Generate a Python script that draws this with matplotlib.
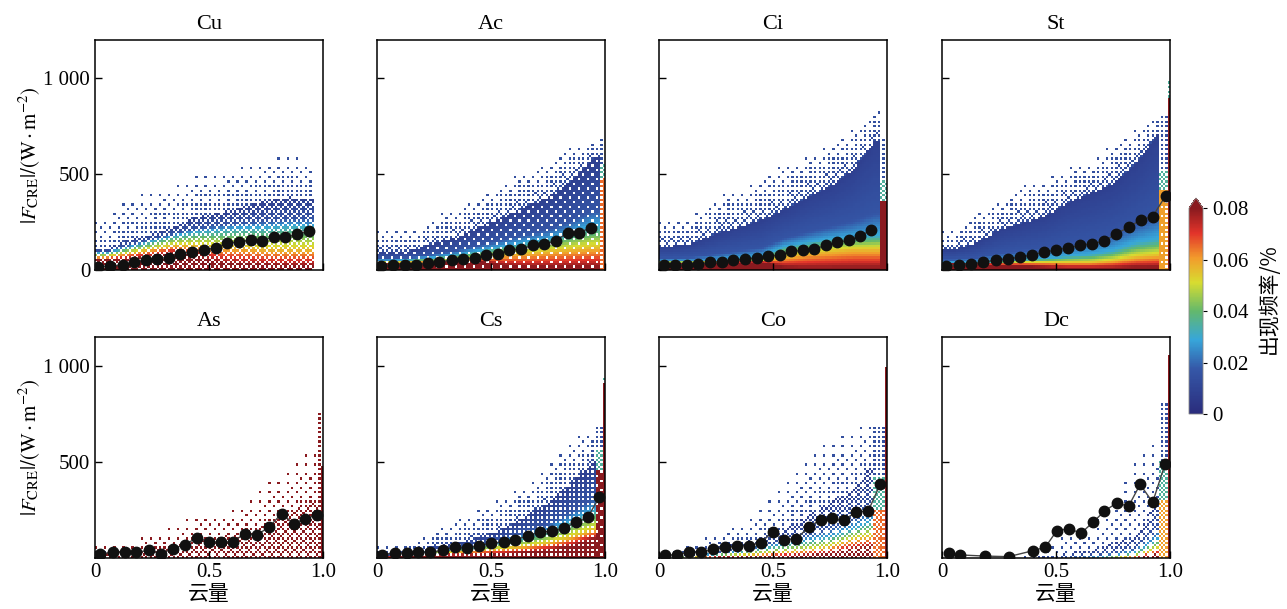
import numpy as np
import matplotlib
matplotlib.use("Agg")
import matplotlib.pyplot as plt
from matplotlib.colors import LinearSegmentedColormap

plt.rcParams["font.family"] = ["Liberation Serif", "Noto Sans CJK SC"]
plt.rcParams["mathtext.fontset"] = "stix"

names = ["Cu", "Ac", "Ci", "St", "As", "Cs", "Co", "Dc"]

# mean |F_CRE| per cloud-amount bin (black dots)
cu_x = [0.015, 0.066, 0.121, 0.172, 0.222, 0.273, 0.324, 0.375, 0.426, 0.477, 0.530, 0.581, 0.632, 0.683, 0.733, 0.784, 0.835, 0.886, 0.937]
cu_y = [18, 21, 27, 42, 53, 60, 65, 85, 95, 106, 115, 141, 145, 159, 152, 173, 171, 186, 203]
ac_x = [0.019, 0.070, 0.121, 0.172, 0.223, 0.274, 0.328, 0.377, 0.428, 0.479, 0.530, 0.581, 0.632, 0.683, 0.734, 0.785, 0.836, 0.887, 0.939]
ac_y = [21, 24, 26, 28, 34, 43, 52, 59, 64, 78, 86, 103, 110, 128, 136, 152, 195, 195, 221]
ci_x = [0.020, 0.071, 0.122, 0.173, 0.224, 0.275, 0.326, 0.377, 0.428, 0.479, 0.530, 0.581, 0.632, 0.680, 0.731, 0.782, 0.833, 0.881, 0.932]
ci_y = [24, 26, 28, 31, 40, 43, 50, 59, 62, 72, 78, 98, 102, 109, 128, 145, 155, 176, 210]
st_x = [0.018, 0.073, 0.128, 0.182, 0.235, 0.289, 0.340, 0.394, 0.447, 0.499, 0.553, 0.607, 0.660, 0.711, 0.765, 0.820, 0.871, 0.924, 0.981]
st_y = [21, 26, 33, 41, 52, 59, 67, 79, 93, 105, 117, 128, 138, 150, 190, 224, 262, 279, 388]
as_x = [0.022, 0.080, 0.131, 0.182, 0.237, 0.291, 0.342, 0.393, 0.447, 0.498, 0.553, 0.604, 0.658, 0.709, 0.764, 0.818, 0.872, 0.923, 0.974]
as_y = [19, 33, 33, 30, 40, 23, 49, 68, 106, 85, 82, 85, 127, 120, 161, 231, 179, 205, 224]
cs_x = [0.022, 0.077, 0.131, 0.182, 0.234, 0.289, 0.343, 0.394, 0.448, 0.501, 0.555, 0.606, 0.661, 0.715, 0.766, 0.820, 0.872, 0.924, 0.975]
cs_y = [16, 28, 24, 30, 31, 40, 59, 52, 65, 77, 84, 96, 114, 136, 138, 156, 185, 212, 316]
co_x = [0.026, 0.077, 0.132, 0.183, 0.237, 0.288, 0.342, 0.394, 0.446, 0.499, 0.549, 0.603, 0.656, 0.709, 0.757, 0.811, 0.865, 0.917, 0.971]
co_y = [14, 17, 30, 30, 45, 56, 61, 65, 80, 135, 96, 100, 161, 199, 208, 196, 241, 243, 386]
dc_x = [0.029, 0.080, 0.187, 0.292, 0.399, 0.453, 0.504, 0.558, 0.610, 0.661, 0.712, 0.766, 0.818, 0.869, 0.924, 0.978]
dc_y = [24, 16, 10, 7, 38, 56, 143, 152, 129, 185, 243, 287, 269, 383, 290, 488]

# heights (W/m2) read at cloud amount 0.05 ... 0.95 where the colours change:
# top of dark red, top of yellow, top of cyan, top of the dense blue part, top of scatter
cols = [0.05, 0.15, 0.25, 0.35, 0.45, 0.55, 0.65, 0.75, 0.85, 0.95]
cu_red = [55, 60, 70, 90, 70, 40, 30, 25, 20, 20]
cu_yel = [70, 90, 110, 130, 130, 120, 120, 110, 110, 110]
cu_cyan = [90, 120, 150, 180, 200, 210, 220, 220, 230, 230]
cu_dense = [110, 160, 190, 225, 280, 300, 330, 360, 380, 370]
cu_top = [260, 380, 400, 440, 500, 510, 540, 560, 620, 560]
ac_red = [35, 35, 40, 50, 50, 25, 15, 15, 15, 15]
ac_yel = [40, 42, 45, 50, 60, 80, 90, 100, 110, 120]
ac_cyan = [50, 55, 65, 80, 100, 120, 140, 160, 190, 230]
ac_dense = [95, 100, 140, 170, 225, 275, 330, 380, 465, 585]
ac_top = [200, 200, 275, 330, 380, 450, 520, 550, 670, 670]
ci_red = [38, 38, 38, 40, 40, 15, 10, 10, 10, 10]
ci_yel = [40, 40, 42, 45, 50, 70, 90, 100, 110, 110]
ci_cyan = [45, 45, 50, 60, 70, 120, 140, 160, 170, 180]
ci_dense = [125, 140, 190, 225, 260, 315, 380, 435, 520, 675]
ci_top = [280, 280, 380, 415, 485, 555, 590, 660, 730, 850]
st_red = [30, 30, 25, 20, 15, 10, 10, 10, 15, 15]
st_yel = [35, 35, 35, 40, 40, 40, 40, 50, 70, 80]
st_cyan = [40, 40, 45, 55, 60, 70, 80, 100, 140, 160]
st_dense = [107, 140, 210, 245, 280, 350, 400, 450, 555, 710]
st_top = [210, 310, 350, 450, 470, 535, 555, 660, 730, 815]
as_dense = [30, 40, 50, 60, 100, 110, 130, 180, 230, 300]
as_top = [60, 80, 130, 165, 235, 235, 270, 375, 480, 565]
cs_red = [5, 10, 15, 15, 15, 20, 30, 40, 60, 100]
cs_yel = [8, 15, 25, 30, 40, 50, 60, 80, 110, 150]
cs_cyan = [10, 20, 35, 45, 60, 80, 110, 140, 190, 250]
cs_dense = [15, 33, 60, 77, 110, 147, 217, 287, 390, 500]
cs_top = [60, 77, 130, 200, 250, 320, 375, 500, 600, 690]
co_red = [0, 0, 5, 5, 10, 10, 15, 20, 40, 60]
co_yel = [3, 5, 10, 15, 20, 30, 40, 60, 100, 120]
co_cyan = [5, 10, 20, 30, 50, 70, 90, 110, 150, 200]
co_dense = [15, 25, 60, 77, 110, 147, 217, 290, 360, 500]
co_top = [33, 77, 130, 180, 250, 410, 500, 620, 670, 740]
dc_red = [0, 0, 0, 0, 0, 0, 0, 0, 0, 20]
dc_yel = [0, 0, 0, 0, 0, 0, 0, 0, 10, 50]
dc_cyan = [0, 0, 0, 0, 0, 0, 0, 10, 30, 100]
dc_dense = [0, 0, 0, 0, 10, 25, 40, 77, 110, 320]
dc_top = [0, 0, 0, 0, 42, 130, 147, 300, 530, 620]

# strips next to cloud amount 1: (from x, top of solid part, its value, top of mixed part, top of scatter, cover)
cu_edge = []
ac_edge = [(0.975, 480, 0.065, 550, 680, 0.8)]
ci_edge = [(0.97, 365, 0.095, 470, 700, 0.95)]
st_edge = [(0.955, 420, 0.06, 520, 800, 0.8), (0.985, 900, 0.095, 1000, 1030, 1.0)]
as_edge = [(0.975, 480, 0.095, 480, 757, 0.7)]
cs_edge = [(0.96, 450, 0.095, 560, 700, 0.85), (0.985, 915, 0.095, 950, 980, 1.0)]
co_edge = [(0.94, 250, 0.065, 420, 700, 0.55), (0.985, 995, 0.095, 995, 1000, 1.0)]
dc_edge = [(0.95, 300, 0.06, 500, 810, 0.5), (0.985, 1050, 0.095, 1050, 1070, 1.0)]

fills = [0.6, 0.9, 0.97, 0.97, 0.4, 0.75, 0.45, 0.35]
xmaxs = [0.96, 1, 1, 1, 1, 1, 1, 1]

means = [(cu_x, cu_y), (ac_x, ac_y), (ci_x, ci_y), (st_x, st_y),
         (as_x, as_y), (cs_x, cs_y), (co_x, co_y), (dc_x, dc_y)]
levels = [(cu_red, cu_yel, cu_cyan, cu_dense, cu_top),
          (ac_red, ac_yel, ac_cyan, ac_dense, ac_top),
          (ci_red, ci_yel, ci_cyan, ci_dense, ci_top),
          (st_red, st_yel, st_cyan, st_dense, st_top),
          (as_dense, as_dense, as_dense, as_dense, as_top),
          (cs_red, cs_yel, cs_cyan, cs_dense, cs_top),
          (co_red, co_yel, co_cyan, co_dense, co_top),
          (dc_red, dc_yel, dc_cyan, dc_dense, dc_top)]
edges = [cu_edge, ac_edge, ci_edge, st_edge, as_edge, cs_edge, co_edge, dc_edge]

cmap = LinearSegmentedColormap.from_list("cre", [
    (0.0, "#2a2c7c"), (0.22, "#3558a8"), (0.36, "#37a6da"), (0.5, "#63b86c"),
    (0.64, "#d8dc30"), (0.76, "#f29b2c"), (0.88, "#e2342a"), (1.0, "#8a1a1f")])
cmap.set_over("#8a1a1f")

bayer = (np.array([[0, 8, 2, 10], [12, 4, 14, 6], [3, 11, 1, 9], [15, 7, 13, 5]]) + 0.5) / 16


def make_field(lev, edge, fill, xmax, ymax, sparse_v):
    xe = np.linspace(0, 1, 101)
    ye = np.arange(0, ymax + 12, 12.0)
    xc = (xe[:-1] + xe[1:]) / 2
    yc = (ye[:-1] + ye[1:]) / 2
    V = np.zeros((len(yc), len(xc)))
    C = np.zeros_like(V)
    for j, x in enumerate(xc):
        hs = np.maximum.accumulate([np.interp(x, cols, a) for a in lev[:4]])
        hmax = max(np.interp(x, cols, lev[4]), hs[-1] + 1)
        knee = hs[2] + 0.25 * (hs[3] - hs[2])
        v = np.interp(yc, [0, hs[0], hs[1], hs[2], knee, hs[3]],
                      [0.095, 0.08, 0.055, 0.03, 0.016, 0.008])
        v[yc > hs[-1]] = sparse_v
        cov = np.where(yc <= hs[-1], fill, np.interp(yc, [hs[-1], hmax], [fill * 0.45, 0.04]))
        cov[yc > hmax] = 0
        for x0, e_hi, e_v, e_mid, e_top, e_cov in edge:
            if x > x0:
                v = np.where(yc <= e_hi, e_v, np.where(yc <= e_mid, 0.035, sparse_v))
                cov = np.where(yc <= e_hi, e_cov, np.where(yc <= e_mid, 0.5, 0.25))
                cov[yc > e_top] = 0
        if x > xmax:
            cov[:] = 0
        V[:, j] = v
        C[:, j] = cov
    ii, jj = np.meshgrid(np.arange(len(yc)), np.arange(len(xc)), indexing="ij")
    show = C > bayer[ii % 4, jj % 4]
    return xe, ye, np.ma.masked_where(~show, V)


fig = plt.figure(figsize=(12.87, 6.09), dpi=100)
W, H = 1287.0, 609.0
lefts = [95, 377, 659, 942]

mesh = None
for k, name in enumerate(names):
    row, col = divmod(k, 4)
    if row == 0:
        top_px, bot_px, ymax = 40, 270, 1200
    else:
        top_px, bot_px, ymax = 337, 558, 1150
    ax = fig.add_axes([lefts[col] / W, (H - bot_px) / H, 228 / W, (bot_px - top_px) / H])
    sparse_v = 0.095 if name == "As" else 0.014
    xe, ye, Z = make_field(levels[k], edges[k], fills[k], xmaxs[k], ymax, sparse_v)
    mesh = ax.pcolormesh(xe, ye, Z, cmap=cmap, vmin=0, vmax=0.08, shading="flat", rasterized=True)
    mx, my = means[k]
    ax.plot(mx, my, "-", color="#444444", lw=1.0, marker="o", ms=7.5,
            mfc="#111111", mec="#111111", zorder=5)
    ax.set_xlim(0, 1)
    ax.set_ylim(0, ymax)
    ax.set_title(name, fontsize=16, pad=8)
    ax.tick_params(direction="in", length=5, width=1, labelsize=15)
    for s in ax.spines.values():
        s.set_linewidth(1.1)
    ax.set_xticks([0, 0.5, 1.0])
    if row == 1:
        ax.set_xticklabels(["0", "0.5", "1.0"])
        ax.set_xlabel("云量", fontsize=15, family=["Noto Sans CJK SC"], labelpad=1)
        ax.set_yticks([500, 1000])
        ylabels = ["500", "1 000"]
    else:
        ax.set_xticklabels([])
        ax.set_yticks([0, 500, 1000])
        ylabels = ["0", "500", "1 000"]
    if col == 0:
        ax.set_yticklabels(ylabels)
        ax.set_ylabel(r"$|F_{\rm CRE}|/(\rm W\cdot m^{-2})$", fontsize=15, labelpad=1)
    else:
        ax.set_yticklabels([])

cax = fig.add_axes([1189 / W, (H - 414) / H, 14 / W, 216 / H])
cb = fig.colorbar(mesh, cax=cax, extend="max", ticks=[0, 0.02, 0.04, 0.06, 0.08])
cb.ax.set_yticklabels(["0", "0.02", "0.04", "0.06", "0.08"])
cb.ax.tick_params(labelsize=15, length=3, width=0.8)
cb.outline.set_linewidth(0.6)
cb.outline.set_edgecolor("#888888")
fig.text(1269 / W, 0.509, "出现频率/%", rotation=90, ha="center", va="center",
         fontsize=15, family=["Noto Sans CJK SC", "DejaVu Sans"])

fig.savefig("out.png", dpi=100)
